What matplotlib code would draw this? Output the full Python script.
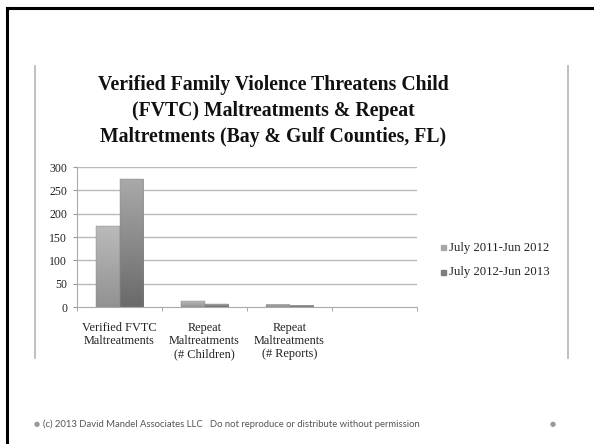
import matplotlib.pyplot as plt
import numpy as np
from matplotlib.colors import LinearSegmentedColormap
from matplotlib.lines import Line2D
from matplotlib.patches import Rectangle

categories = ['Verified FVTC\nMaltreatments',
              'Repeat\nMaltreatments\n(# Children)',
              'Repeat\nMaltreatments\n(# Reports)',
              '']
series_names = ['July 2011-Jun 2012', 'July 2012-Jun 2013']
values_2011 = [173, 12, 5, 0]
values_2012 = [274, 6, 3, 0]
yticks = [0, 50, 100, 150, 200, 250, 300]

title = ('Verified Family Violence Threatens Child\n'
         '(FVTC) Maltreatments & Repeat\n'
         'Maltretments (Bay & Gulf Counties, FL)')
footer = '(c) 2013 David Mandel Associates LLC   Do not reproduce or distribute without permission'

serif = ['Liberation Serif', 'DejaVu Serif']

fig = plt.figure(figsize=(5.94, 4.44), dpi=100)
fig.patch.set_facecolor('white')

# slide frame (black) and gray side rules
fig.add_artist(Line2D([7/594, 7/594], [0, 1 - 8/444], color='black', lw=2.2))
fig.add_artist(Line2D([7/594, 1], [1 - 8/444, 1 - 8/444], color='black', lw=2.2))
fig.add_artist(Line2D([35/594, 35/594], [1 - 66/444, 1 - 358/444], color='#b5b5b5', lw=1.2))
fig.add_artist(Line2D([568/594, 568/594], [1 - 66/444, 1 - 358/444], color='#b5b5b5', lw=1.2))

fig.text(273/594, 1 - 111/444, title, ha='center', va='center', fontsize=14.2,
         fontweight='bold', family=serif, color='#111111', linespacing=1.38)

ax = fig.add_axes([77/594, 1 - 307/444, 340/594, 140/444])

cmap1 = LinearSegmentedColormap.from_list('s1', ['#929292', '#bababa'])
cmap2 = LinearSegmentedColormap.from_list('s2', ['#6a6a6a', '#a9a9a9'])
grad = np.linspace(0, 1, 100).reshape(-1, 1)

x = np.arange(len(categories))
w = 0.28
for xi, v1, v2 in zip(x, values_2011, values_2012):
    for off, v, cm in [(-w / 2, v1, cmap1), (w / 2, v2, cmap2)]:
        if v <= 0:
            continue
        x0 = xi + off - w / 2
        ax.imshow(grad, extent=[x0, x0 + w, 0, v], origin='lower', cmap=cm,
                  aspect='auto', zorder=3)
        ax.add_patch(Rectangle((x0, 0), w, v, fill=False, ec='#888888', lw=0.3, zorder=4))

ax.set_xlim(-0.5, len(categories) - 0.5)
ax.set_ylim(0, 300)
ax.set_yticks(yticks)
ax.set_yticklabels([str(t) for t in yticks], family=serif, fontsize=8.5, color='#222222')
for t in yticks[1:]:
    ax.axhline(t, color='#b8b8b8', lw=1, zorder=1)

ax.set_xticks(x)
ax.set_xticklabels(categories, family=serif, fontsize=8.8, color='#222222', linespacing=1.12)
ax.set_xticks(np.arange(len(categories) + 1) - 0.5, minor=True)
ax.tick_params(axis='x', which='major', length=0, pad=11)
ax.tick_params(axis='x', which='minor', length=3, color='#999999')
ax.tick_params(axis='y', length=3, color='#999999', pad=4)

for s in ['top', 'right']:
    ax.spines[s].set_visible(False)
ax.spines['left'].set_color('#aaaaaa')
ax.spines['bottom'].set_color('#aaaaaa')

# legend
leg_colors = ['#a8a8a8', '#7e7e7e']
for i, (name, c) in enumerate(zip(series_names, leg_colors)):
    yy = 1 - (248 + i * 24) / 444
    fig.add_artist(Rectangle((441/594, yy - 2.5/444), 5/594, 5/444, color=c,
                             transform=fig.transFigure))
    fig.text(449/594, yy, name, ha='left', va='center', fontsize=9.2,
             family=serif, color='#222222')

# footer
fig.text(37/594, 1 - 424/444, '\u25cf', ha='center', va='center', fontsize=5, color='#999999')
fig.text(43/594, 1 - 424/444, footer, ha='left', va='center', fontsize=6.8,
         color='#555555', family=['Lato', 'DejaVu Sans'])
fig.text(553/594, 1 - 424/444, '\u25cf', ha='center', va='center', fontsize=5, color='#999999')

fig.savefig('out.png', dpi=100)
